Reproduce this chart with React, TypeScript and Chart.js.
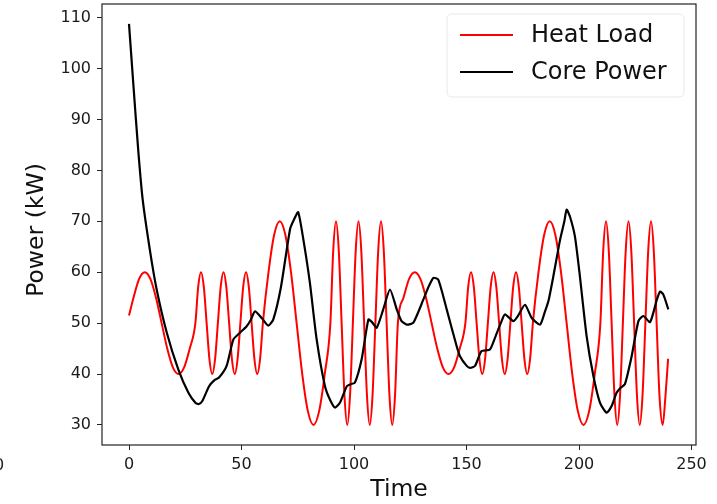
import React, { useEffect, useRef } from 'react';
import { Chart, registerables } from 'chart.js';

Chart.register(...registerables);

// ---- Data ----
const heatTime = [
  0, 2, 4.5, 7, 9.5, 12, 14.5, 17, 19.5, 22, 24.5, 27, 29.5,
  30.75, 32, 33.25, 34.5, 35.75, 37, 38.25, 39.5, 40.75, 42, 43.25, 44.5, 45.75, 47, 48.25, 49.5,
  50.75, 52, 53.25, 54.5, 55.75, 57, 58.25, 59.5,
  62, 64.5, 67, 69.5, 72, 74.5, 77, 79.5, 82, 84.5, 87, 89.5,
  90.75, 92, 93.25, 94.5, 95.75, 97, 98.25, 99.5, 100.75, 102, 103.25, 104.5, 105.75, 107, 108.25, 109.5,
  110.75, 112, 113.25, 114.5, 115.75, 117, 118.25, 119.5,
  122, 124.5, 127, 129.5, 132, 134.5, 137, 139.5, 142, 144.5, 147, 149.5,
  150.75, 152, 153.25, 154.5, 155.75, 157, 158.25, 159.5, 160.75, 162, 163.25, 164.5, 165.75, 167, 168.25, 169.5,
  170.75, 172, 173.25, 174.5, 175.75, 177, 178.25, 179.5,
  182, 184.5, 187, 189.5, 192, 194.5, 197, 199.5, 202, 204.5, 207, 209.5,
  210.75, 212, 213.25, 214.5, 215.75, 217, 218.25, 219.5, 220.75, 222, 223.25, 224.5, 225.75, 227, 228.25, 229.5,
  230.75, 232, 233.25, 234.5, 235.75, 237.2, 238.4, 239.6,
];
const heatLoad = [
  51.5, 55, 58.7, 60, 58.7, 55, 50, 45, 41.3, 40, 41.3, 45, 50,
  57.1, 60, 57.1, 50, 42.9, 40, 42.9, 50, 57.1, 60, 57.1, 50, 42.9, 40, 42.9, 50,
  57.1, 60, 57.1, 50, 42.9, 40, 42.9, 50,
  60, 67.3, 70, 67.3, 60, 50, 40, 32.7, 30, 32.7, 40, 50,
  64.1, 70, 64.1, 50, 35.9, 30, 35.9, 50, 64.1, 70, 64.1, 50, 35.9, 30, 35.9, 50,
  64.1, 70, 64.1, 50, 35.9, 30, 35.9, 50,
  55, 58.7, 60, 58.7, 55, 50, 45, 41.3, 40, 41.3, 45, 50,
  57.1, 60, 57.1, 50, 42.9, 40, 42.9, 50, 57.1, 60, 57.1, 50, 42.9, 40, 42.9, 50,
  57.1, 60, 57.1, 50, 42.9, 40, 42.9, 50,
  60, 67.3, 70, 67.3, 60, 50, 40, 32.7, 30, 32.7, 40, 50,
  64.1, 70, 64.1, 50, 35.9, 30, 35.9, 50, 64.1, 70, 64.1, 50, 35.9, 30, 35.9, 50,
  64.1, 70, 64.1, 50, 35.9, 30, 35.5, 43,
];

const coreTime = [
  0, 1.9, 4.1, 6.1, 9.2, 12.3, 16.8, 21.9, 26.4, 29.6, 31, 32.6, 35.6, 38, 40, 43.4, 46.4, 49.3, 52.3, 54, 56,
  59, 61.9, 64.1, 67.5, 71.6, 73.5, 75.2, 77.5, 80.4, 83.4, 87.1, 89.5, 91.6, 93.8, 96.8, 98.5, 100.4,
  103.4, 106.4, 108, 110.1, 113, 116, 119, 121, 123.4, 126.4, 130.8, 133, 135.3, 137.5, 141.2, 145.6,
  147.1, 150.1, 151.6, 153.8, 156.7, 160.4, 163, 165.6, 167.1, 170.8, 173, 176, 179, 182.7, 184.9, 186.5,
  188.6, 191.6, 193.5, 194.5, 196, 198.2, 200.4, 203.4, 206.4, 209.3, 212.3, 214.5, 216.7, 218.5, 220.4,
  223.4, 226.4, 228.6, 231.6, 234.6, 236, 237.5, 239.7,
];
const corePower = [
  108.8, 97.1, 84, 74.2, 64.6, 56.6, 48.1, 40.9, 36.3, 34.3, 34.1, 34.7, 37.6, 38.8, 39.3, 41.6, 46.8, 48.1, 49.4, 50.5, 52.3,
  51, 49.5, 50.7, 57, 68.5, 70.5, 71.8, 66.4, 57.9, 46.8, 37.6, 34.8, 33.4, 34.4, 37.6, 38, 38.3,
  42.9, 50.7, 50.2, 49.1, 52.7, 56.6, 52.7, 50.5, 49.7, 50.1, 54.6, 57, 58.9, 58.5, 52.7, 45.5,
  43.5, 41.6, 41.2, 41.6, 44.5, 44.8, 47.5, 50.4, 51.7, 50.4, 51.5, 53.6, 51, 49.7, 52.3, 54.5,
  59.2, 66.4, 70, 72.3, 70.9, 67, 59.2, 47.4, 39.6, 34.4, 32.4, 33.7, 36.3, 37.3, 38,
  43.5, 50.4, 51.4, 50.2, 54.6, 56.2, 55.6, 52.7,
];

const xTicks = [0, 50, 100, 150, 200, 250];
const yTicks = [30, 40, 50, 60, 70, 80, 90, 100, 110];
const seriesNames = ['Heat Load', 'Core Power'];
const seriesColors = ['#ff0000', '#000000'];

const FONT = "'DejaVu Sans', sans-serif";

const decorPlugin = {
  id: 'decor',
  afterDraw(chart: any) {
    const { ctx, chartArea } = chart;
    const { left, right, top, bottom } = chartArea;
    ctx.save();
    // frame
    ctx.strokeStyle = '#222';
    ctx.lineWidth = 1.2;
    ctx.strokeRect(left, top, right - left, bottom - top);

    // axis titles
    ctx.fillStyle = '#111';
    ctx.font = `23.5px ${FONT}`;
    ctx.textAlign = 'center';
    ctx.textBaseline = 'middle';
    ctx.fillText('Time', (left + right) / 2, 490);
    ctx.save();
    ctx.translate(37, 230);
    ctx.rotate(-Math.PI / 2);
    ctx.fillText('Power (kW)', 0, 0);
    ctx.restore();

    // legend
    const lx = 447, ly = 14, lw = 237, lh = 83, r = 5;
    ctx.beginPath();
    ctx.moveTo(lx + r, ly);
    ctx.lineTo(lx + lw - r, ly);
    ctx.quadraticCurveTo(lx + lw, ly, lx + lw, ly + r);
    ctx.lineTo(lx + lw, ly + lh - r);
    ctx.quadraticCurveTo(lx + lw, ly + lh, lx + lw - r, ly + lh);
    ctx.lineTo(lx + r, ly + lh);
    ctx.quadraticCurveTo(lx, ly + lh, lx, ly + lh - r);
    ctx.lineTo(lx, ly + r);
    ctx.quadraticCurveTo(lx, ly, lx + r, ly);
    ctx.closePath();
    ctx.fillStyle = 'rgba(255,255,255,0.8)';
    ctx.fill();
    ctx.strokeStyle = '#e8e8e8';
    ctx.lineWidth = 1;
    ctx.stroke();

    const rows = [35, 72];
    seriesNames.forEach((name, i) => {
      ctx.strokeStyle = seriesColors[i];
      ctx.lineWidth = 2;
      ctx.beginPath();
      ctx.moveTo(460, rows[i]);
      ctx.lineTo(513, rows[i]);
      ctx.stroke();
      ctx.fillStyle = '#111';
      ctx.font = `24px ${FONT}`;
      ctx.textAlign = 'left';
      ctx.textBaseline = 'middle';
      ctx.fillText(name, 531, rows[i] + 1);
    });

    // cropped neighbour labels at the edges
    ctx.font = `16px ${FONT}`;
    ctx.fillStyle = '#222';
    ctx.textAlign = 'center';
    ctx.fillText('0', -1, 466);
    ctx.restore();
  },
};

export default function App() {
  const ref = useRef<HTMLCanvasElement | null>(null);
  useEffect(() => {
    if (!ref.current) return;
    const chart = new Chart(ref.current, {
      type: 'line',
      data: {
        datasets: [
          {
            label: seriesNames[0],
            data: heatTime.map((t, i) => ({ x: t, y: heatLoad[i] })),
            borderColor: seriesColors[0],
            borderWidth: 2,
            pointRadius: 0,
            cubicInterpolationMode: 'monotone',
            fill: false,
            order: 1,
          },
          {
            label: seriesNames[1],
            data: coreTime.map((t, i) => ({ x: t, y: corePower[i] })),
            borderColor: seriesColors[1],
            borderWidth: 2.2,
            pointRadius: 0,
            tension: 0.2,
            fill: false,
            order: 0,
          },
        ],
      },
      plugins: [decorPlugin],
      options: {
        animation: false,
        responsive: false,
        devicePixelRatio: 1,
        layout: { padding: { top: 4, right: 21, left: 0, bottom: 0 } },
        plugins: { legend: { display: false }, tooltip: { enabled: false } },
        scales: {
          x: {
            type: 'linear',
            min: -12,
            max: 252,
            afterBuildTicks: (s: any) => {
              s.ticks = xTicks.map((v) => ({ value: v }));
            },
            afterFit: (s: any) => {
              s.height = 59;
              s.paddingLeft = 0;
              s.paddingRight = 0;
            },
            grid: { display: true, drawOnChartArea: false, drawTicks: true, tickLength: 5, color: '#222' },
            border: { display: false },
            ticks: {
              font: { family: FONT, size: 16 },
              color: '#1a1a1a',
              padding: 5,
              maxRotation: 0,
              autoSkip: false,
            },
          },
          y: {
            type: 'linear',
            min: 26.05,
            max: 112.7,
            afterBuildTicks: (s: any) => {
              s.ticks = yTicks.map((v) => ({ value: v }));
            },
            afterFit: (s: any) => {
              s.width = 102;
              s.paddingTop = 0;
              s.paddingBottom = 0;
            },
            grid: { display: true, drawOnChartArea: false, drawTicks: true, tickLength: 5, color: '#222' },
            border: { display: false },
            ticks: {
              font: { family: FONT, size: 16 },
              color: '#1a1a1a',
              padding: 6,
              autoSkip: false,
            },
          },
        },
      },
    } as any);
    return () => chart.destroy();
  }, []);
  return (
    <div style={{ position: 'fixed', left: 0, top: 0, width: 717, height: 504, background: '#fff' }}>
      <canvas ref={ref} width={717} height={504} style={{ width: 717, height: 504, display: 'block' }} />
    </div>
  );
}
